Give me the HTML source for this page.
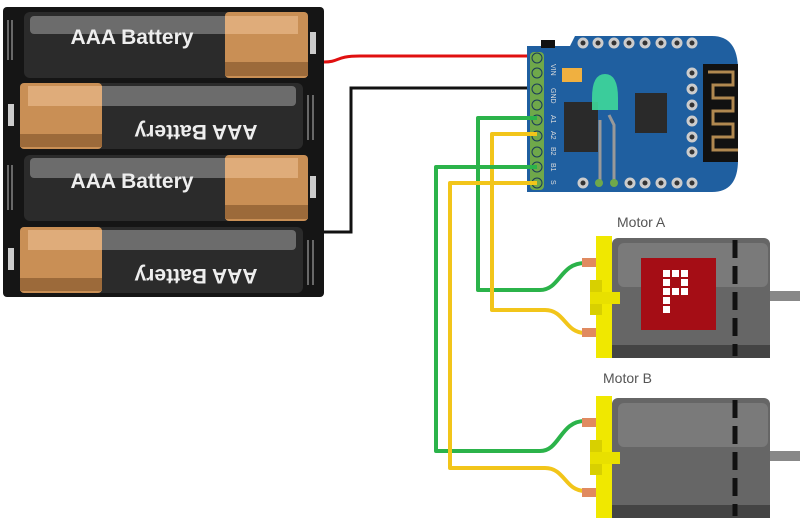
<!DOCTYPE html>
<html><head><style>body{margin:0;background:#fff}svg{display:block}</style></head><body>
<svg width="800" height="522" viewBox="0 0 800 522" xmlns="http://www.w3.org/2000/svg" font-family="Liberation Sans, sans-serif">
<rect x="3" y="7" width="321" height="290" rx="4" fill="#151515"/>
<!-- cell 1 -->
<rect x="24" y="12" width="284" height="66" rx="6" fill="#2b2b2b"/>
<rect x="30" y="16" width="268" height="18" rx="4" fill="#6c6c6c"/>
<rect x="225" y="12" width="83" height="66" rx="4" fill="#c98f55"/><rect x="225" y="16" width="73" height="18" fill="#dfac7a"/><rect x="225" y="62" width="83" height="14" fill="#9c6a3a"/>
<text x="132" y="44" font-size="21" font-weight="bold" fill="#eee" text-anchor="middle">AAA Battery</text>
<!-- cell 2 -->
<rect x="20" y="83" width="283" height="66" rx="6" fill="#2b2b2b"/>
<rect x="28" y="86" width="268" height="20" rx="4" fill="#6c6c6c"/>
<rect x="20" y="83" width="82" height="66" rx="4" fill="#c98f55"/><rect x="28" y="86" width="74" height="20" fill="#dfac7a"/><rect x="20" y="134" width="82" height="13" fill="#9c6a3a"/>
<text x="196" y="111" font-size="21" font-weight="bold" fill="#eee" text-anchor="middle" transform="rotate(180 196 118)">AAA Battery</text>
<!-- cell 3 -->
<rect x="24" y="155" width="284" height="66" rx="6" fill="#2b2b2b"/>
<rect x="30" y="158" width="268" height="20" rx="4" fill="#6c6c6c"/>
<rect x="225" y="155" width="83" height="66" rx="4" fill="#c98f55"/><rect x="225" y="158" width="73" height="20" fill="#dfac7a"/><rect x="225" y="205" width="83" height="14" fill="#9c6a3a"/>
<text x="132" y="188" font-size="21" font-weight="bold" fill="#eee" text-anchor="middle">AAA Battery</text>
<!-- cell 4 -->
<rect x="20" y="227" width="283" height="66" rx="6" fill="#2b2b2b"/>
<rect x="28" y="230" width="268" height="20" rx="4" fill="#6c6c6c"/>
<rect x="20" y="227" width="82" height="66" rx="4" fill="#c98f55"/><rect x="28" y="230" width="74" height="20" fill="#dfac7a"/><rect x="20" y="278" width="82" height="13" fill="#9c6a3a"/>
<text x="196" y="255" font-size="21" font-weight="bold" fill="#eee" text-anchor="middle" transform="rotate(180 196 262)">AAA Battery</text>
<g fill="#ccc"><rect x="310" y="32" width="6" height="22"/><rect x="8" y="104" width="6" height="22"/><rect x="310" y="176" width="6" height="22"/><rect x="8" y="248" width="6" height="22"/></g>
<g stroke="#bbb" fill="none" stroke-width="1"><path d="M8 20v40M12 20v40M308 95v45M313 95v45M8 165v45M12 165v45M308 240v45M313 240v45"/></g>
<path d="M324 62 C340 62 335 56 360 56 L528 56" stroke="#e01010" stroke-width="3" fill="none"/>
<path d="M324 232 L351 232 L351 88 L528 88" stroke="#111" stroke-width="3" fill="none"/>
<!-- board -->
<path d="M527 46 L570 46 L575 36 L712 36 Q738 36 738 70 L738 160 Q738 192 712 192 L527 192 Z" fill="#1f5fa0"/>
<rect x="541" y="40" width="14" height="8" fill="#111"/>
<rect x="703" y="64" width="35" height="98" fill="#111"/>
<path d="M708 72h25v13h-20v13h20v13h-20v13h20v13h-20v13h25" stroke="#b08850" stroke-width="3" fill="none"/>
<rect x="530" y="52" width="14" height="138" rx="4" fill="#6fa84a"/>
<g fill="#6fa84a" stroke="#1a3a5a" stroke-width="1">
<circle cx="537" cy="58" r="5"/><circle cx="537" cy="73" r="5"/><circle cx="537" cy="89" r="5"/><circle cx="537" cy="105" r="5"/><circle cx="537" cy="120" r="5"/><circle cx="537" cy="136" r="5"/><circle cx="537" cy="152" r="5"/><circle cx="537" cy="167" r="5"/><circle cx="537" cy="183" r="5"/></g>
<g fill="#333" stroke="#ccc" stroke-width="3">
<circle cx="583" cy="43" r="4"/><circle cx="598" cy="43" r="4"/><circle cx="614" cy="43" r="4"/><circle cx="629" cy="43" r="4"/><circle cx="645" cy="43" r="4"/><circle cx="661" cy="43" r="4"/><circle cx="677" cy="43" r="4"/><circle cx="692" cy="43" r="4"/>
<circle cx="583" cy="183" r="4"/><circle cx="630" cy="183" r="4"/><circle cx="645" cy="183" r="4"/><circle cx="661" cy="183" r="4"/><circle cx="677" cy="183" r="4"/><circle cx="692" cy="183" r="4"/>
<circle cx="692" cy="73" r="4"/><circle cx="692" cy="89" r="4"/><circle cx="692" cy="105" r="4"/><circle cx="692" cy="121" r="4"/><circle cx="692" cy="137" r="4"/><circle cx="692" cy="152" r="4"/></g>
<rect x="564" y="102" width="34" height="50" fill="#2a2a2a"/><rect x="635" y="93" width="32" height="40" fill="#2a2a2a"/>
<rect x="562" y="68" width="20" height="14" fill="#f0b040"/>
<g font-size="7" fill="#ddd"><text x="551" y="64" transform="rotate(90 551 64)">VIN</text><text x="551" y="88" transform="rotate(90 551 88)">GND</text><text x="551" y="115" transform="rotate(90 551 115)">A1</text><text x="551" y="131" transform="rotate(90 551 131)">A2</text><text x="551" y="147" transform="rotate(90 551 147)">B2</text><text x="551" y="163" transform="rotate(90 551 163)">B1</text><text x="551" y="180" transform="rotate(90 551 180)">S</text></g>
<path d="M600 120 L600 183 M609 115 L614 125 L614 183" stroke="#999" stroke-width="3" fill="none"/>
<circle cx="599" cy="183" r="4" fill="#6fa84a"/><circle cx="614" cy="183" r="4" fill="#6fa84a"/>
<path d="M592 98 Q592 74 605 74 Q618 74 618 98 L618 110 L592 110 Z" fill="#3ed89a" opacity="0.9"/>
<g fill="none" stroke-width="4" stroke-linejoin="round">
<path d="M537 118 L478 118 L478 290 L540 290 C560 290 560 263 585 263" stroke="#2bb34a"/>
<path d="M537 134 L492 134 L492 310 L545 310 C565 310 565 333 585 333" stroke="#f2c51a"/>
<path d="M537 167 L436 167 L436 451 L540 451 C560 451 560 421 585 421" stroke="#2bb34a"/>
<path d="M537 183 L450 183 L450 468 L545 468 C565 468 565 491 585 491" stroke="#f2c51a"/>
</g>
<g id="m">
<rect x="612" y="238" width="158" height="120" rx="6" fill="#666"/>
<rect x="618" y="243" width="150" height="44" rx="6" fill="#7a7a7a"/>
<rect x="612" y="345" width="158" height="13" fill="#444"/>
<rect x="770" y="291" width="30" height="10" fill="#888"/>
<path d="M735 240 V356" stroke="#111" stroke-width="5" stroke-dasharray="18 8"/>
<rect x="596" y="236" width="16" height="122" fill="#f0e800"/>
<rect x="590" y="280" width="12" height="35" fill="#d8d000"/><rect x="590" y="292" width="30" height="12" fill="#e8e000"/>
<rect x="582" y="258" width="14" height="9" fill="#e08a60"/><rect x="582" y="328" width="14" height="9" fill="#e08a60"/>
</g>
<rect x="641" y="258" width="75" height="72" fill="#a50d15"/>
<g fill="#fff"><rect x="663" y="270" width="7" height="7"/><rect x="672" y="270" width="7" height="7"/><rect x="681" y="270" width="7" height="7"/><rect x="663" y="279" width="7" height="7"/><rect x="681" y="279" width="7" height="7"/><rect x="663" y="288" width="7" height="7"/><rect x="672" y="288" width="7" height="7"/><rect x="681" y="288" width="7" height="7"/><rect x="663" y="297" width="7" height="7"/><rect x="663" y="306" width="7" height="7"/></g>
<use href="#m" transform="translate(0 160)"/>
<text x="617" y="227" font-size="14" fill="#555">Motor A</text>
<text x="603" y="383" font-size="14" fill="#555">Motor B</text>
</svg>
</body></html>
